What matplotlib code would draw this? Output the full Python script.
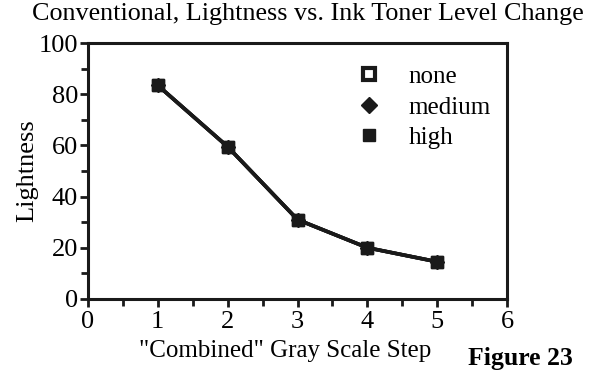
import matplotlib
matplotlib.use("Agg")
import matplotlib.pyplot as plt
from matplotlib.lines import Line2D
from matplotlib.ticker import MultipleLocator

steps = [1, 2, 3, 4, 5]
lightness_none = [83.5, 59.5, 31, 20, 14.5]
lightness_medium = [83.5, 59.5, 31, 20, 14.5]
lightness_high = [83.5, 59.5, 31, 20, 14.5]
levels = ["none", "medium", "high"]

plt.rcParams.update(
    {
        "font.family": "Liberation Serif",
        "font.size": 15,
    }
)

fig = plt.figure(figsize=(5.98, 3.75), dpi=100)
ax = fig.add_axes([0.147, 0.203, 0.701, 0.682])

ink = "#1a1a1a"
ax.plot(steps, lightness_none, "-", color=ink, lw=2.6, marker="s", ms=8,
        mfc=ink, mec=ink)
ax.plot(steps, lightness_medium, "-", color=ink, lw=2.6, marker="D", ms=7,
        mfc=ink, mec=ink)
ax.plot(steps, lightness_high, "-", color=ink, lw=2.6, marker="s", ms=8.5,
        mfc=ink, mec=ink)

ax.set_xlim(0, 6)
ax.set_ylim(0, 100)
ax.xaxis.set_major_locator(MultipleLocator(1))
ax.xaxis.set_minor_locator(MultipleLocator(0.5))
ax.yaxis.set_major_locator(MultipleLocator(20))
ax.yaxis.set_minor_locator(MultipleLocator(10))
ax.tick_params(which="both", direction="out", width=2, color=ink, labelsize=19)
ax.tick_params(axis="x", pad=3)
ax.tick_params(axis="y", pad=1)
ax.tick_params(which="major", length=6)
ax.tick_params(which="minor", length=5)
for s in ax.spines.values():
    s.set_linewidth(2.2)
    s.set_color(ink)

ax.set_xlabel('"Combined" Gray Scale Step', fontsize=18, labelpad=5, x=0.47)
ax.set_ylabel("Lightness", fontsize=19, labelpad=0)

handles = [
    Line2D([], [], ls="none", marker="s", ms=9, mfc="white", mec=ink, mew=3),
    Line2D([], [], ls="none", marker="D", ms=8, mfc=ink, mec=ink),
    Line2D([], [], ls="none", marker="s", ms=9, mfc=ink, mec=ink),
]
ax.legend(handles, levels, loc="upper left", bbox_to_anchor=(0.58, 1.0),
          frameon=False, fontsize=18, handletextpad=1.0, labelspacing=0.32,
          handlelength=1.2)

fig.text(0.515, 0.962, "Conventional, Lightness vs. Ink Toner Level Change",
         ha="center", va="center", fontsize=18.8)
fig.text(0.87, 0.045, "Figure 23", ha="center", va="center", fontsize=18.5,
         fontweight="bold")

fig.savefig("out.png", dpi=100)
